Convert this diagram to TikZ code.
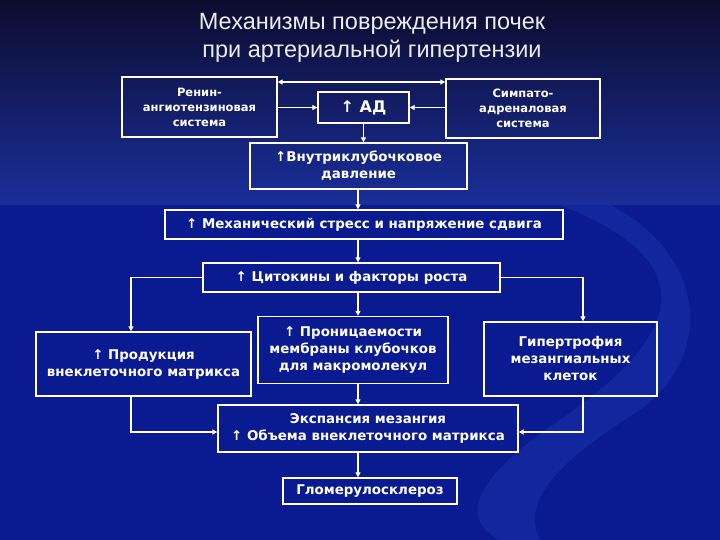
\documentclass[tikz,border=0pt]{standalone}
\usepackage{fontspec}
\setmainfont{Liberation Sans}
\newfontfamily\dv{DejaVu Sans}
\usetikzlibrary{arrows.meta}
\definecolor{topc}{HTML}{0C0C2E}
\definecolor{midc}{HTML}{1A2E9A}
\definecolor{lowc}{HTML}{0A1A90}
\definecolor{swoosh}{HTML}{1830A8}
\tikzset{
  box/.style={draw=white,line width=1.4pt,align=center,text=white,inner sep=2pt},
  big/.style={font=\dv\bfseries\fontsize{13.4}{17}\selectfont},
  small/.style={font=\dv\bfseries\fontsize{11.5}{15}\selectfont},
  conn/.style={draw=white,line width=1.4pt,-{Triangle[length=5pt,width=5pt]}},
}
\begin{document}
\begin{tikzpicture}[x=1pt,y=-1pt]
\useasboundingbox (0,0) rectangle (720,540);
\shade[top color=topc,bottom color=midc] (0,0) rectangle (720,205);
\fill[lowc] (0,205) rectangle (720,540);
\fill[swoosh,opacity=0.6] (560,205) .. controls (700,260) and (690,330) .. (560,420) .. controls (470,480) and (460,520) .. (500,540) -- (540,540) .. controls (520,500) and (560,460) .. (640,410) .. controls (720,350) and (700,250) .. (610,205) -- cycle;
\node[text=white!85!gray,font=\fontsize{23.5}{28}\selectfont,align=center] (title) at (372,38) {Механизмы повреждения почек\\при артериальной гипертензии};
\node[box,small,minimum width=155,minimum height=60] (ren) at (199.5,107) {Ренин-\\ангиотензиновая\\система};
\node[box,minimum width=91,minimum height=31,font=\dv\bfseries\fontsize{16}{18}\selectfont] (ad) at (363.5,107.5) {↑ АД};
\node[box,small,minimum width=154,minimum height=59] (sym) at (523,108.5) {Симпато-\\адреналовая\\система};
\node[box,big,minimum width=217,minimum height=46] (vn) at (358.5,166) {↑Внутриклубочковое\\давление};
\node[box,big,minimum width=398,minimum height=29] (mech) at (364,224.5) {↑ Механический стресс и напряжение сдвига};
\node[box,big,minimum width=297,minimum height=29] (cyt) at (351.5,277.5) {↑ Цитокины и факторы роста};
\node[box,big,minimum width=215,minimum height=64] (prod) at (143.5,364) {↑ Продукция\\внеклеточного матрикса};
\node[box,big,minimum width=190,minimum height=67] (pron) at (353,350) {↑ Проницаемости\\мембраны клубочков\\для макромолекул};
\node[box,big,minimum width=173,minimum height=74] (gip) at (570.5,359) {Гипертрофия\\мезангиальных\\клеток};
\node[box,big,minimum width=300,minimum height=47] (exp) at (368,428.5) {Экспансия мезангия\\↑ Объема внеклеточного матрикса};
\node[box,big,minimum width=174,minimum height=26] (glo) at (370,491) {Гломерулосклероз};
\draw[conn,{Triangle[length=5pt,width=5pt]}-{Triangle[length=5pt,width=5pt]}] (ren.east|-0,82) -- (sym.west|-0,82);
\draw[conn] (ren.east|-ad) -- (ad.west);
\draw[conn] (sym.west|-ad) -- (ad.east);
\draw[conn] (ad.south) -- (ad.south|-vn.north);
\draw[conn] (vn.south-|358,0) -- (mech.north-|358,0);
\draw[conn] (mech.south-|358,0) -- (cyt.north-|358,0);
\draw[conn] (cyt.south-|358,0) -- (pron.north-|358,0);
\draw[conn] (pron.south-|358,0) -- (exp.north-|358,0);
\draw[conn] (exp.south-|358,0) -- (glo.north-|358,0);
\draw[conn] (cyt.west) -| (prod.north-|131,0);
\draw[conn] (cyt.east) -| (gip.north-|583,0);
\draw[conn] (prod.south-|131,0) |- (exp.west|-0,432);
\draw[conn] (gip.south-|583,0) |- (exp.east|-0,432);
\end{tikzpicture}
\end{document}
